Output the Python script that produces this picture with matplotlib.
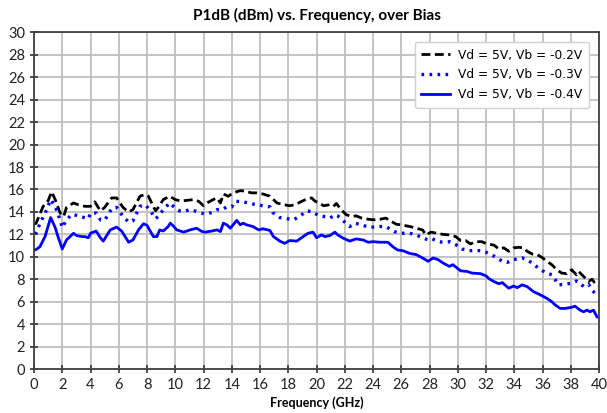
import matplotlib
matplotlib.use('Agg')
import matplotlib.pyplot as plt

# Vd = 5V, Vb = -0.2V
freq_b02 = [0.0, 0.15, 0.65, 1.0, 1.25, 1.5, 1.85, 2.1, 2.3, 2.8,
            3.1, 3.6, 4.0, 4.3, 4.7, 5.0, 5.5, 5.85, 6.3, 6.7,
            7.0, 7.5, 7.85, 8.1, 8.6, 8.8, 9.15, 9.6, 10.0, 10.3,
            10.6, 11.3, 11.65, 12.0, 12.25, 12.6, 12.95, 13.2, 13.4, 13.75,
            14.1, 14.6, 14.95, 15.4, 15.75, 16.2, 16.7, 17.2, 17.65, 18.1,
            18.5, 18.8, 19.3, 19.65, 19.9, 20.2, 20.5, 20.95, 21.2, 21.4,
            21.75, 22.1, 22.5, 22.8, 23.2, 23.65, 24.0, 24.5, 24.9, 25.3,
            25.65, 26.0, 26.6, 27.05, 27.5, 27.75, 28.1, 28.5, 28.95, 29.4,
            29.85, 30.2, 30.55, 30.9, 31.25, 31.7, 32.05, 32.55, 32.9, 33.25,
            33.6, 33.95, 34.3, 34.65, 34.9, 35.25, 35.6, 35.95, 36.3, 36.65,
            37.0, 37.35, 37.7, 38.05, 38.4, 38.55, 38.9, 39.25, 39.5, 39.7, 40.0]
p1db_b02 = [12.9, 13.0, 14.5, 15.0, 15.8, 15.1, 13.9, 13.6, 14.4, 14.8,
            14.65, 14.5, 14.5, 14.9, 14.1, 14.4, 15.25, 15.25, 14.4, 14.0,
            14.2, 15.4, 15.55, 15.4, 14.1, 14.4, 15.1, 15.4, 15.1, 15.0,
            15.0, 15.1, 14.95, 14.55, 14.8, 15.05, 15.25, 14.8, 15.6, 15.4,
            15.7, 15.9, 15.85, 15.7, 15.7, 15.6, 15.4, 14.8, 14.65, 14.55,
            14.65, 14.85, 15.15, 15.25, 14.95, 14.8, 14.55, 14.65, 14.5, 14.75,
            14.2, 13.75, 13.6, 13.65, 13.45, 13.35, 13.3, 13.35, 13.45, 13.15,
            12.9, 12.85, 12.7, 12.55, 12.4, 11.95, 12.2, 12.1, 12.0, 11.95,
            11.8, 11.45, 11.45, 11.15, 11.35, 11.35, 11.15, 11.05, 10.7, 10.8,
            10.5, 10.8, 10.85, 10.8, 10.5, 10.25, 10.2, 9.95, 9.6, 9.3,
            8.85, 8.55, 8.5, 8.85, 8.4, 8.7, 8.25, 7.8, 8.0, 7.65, 7.4]

# Vd = 5V, Vb = -0.3V
freq_b03 = [0.0, 0.15, 0.55, 0.9, 1.18, 1.5, 1.85, 2.0, 2.3, 2.7,
            3.25, 3.85, 4.0, 4.4, 4.7, 5.0, 5.5, 5.85, 6.3, 6.7,
            7.0, 7.5, 7.85, 8.2, 8.6, 8.8, 9.15, 9.6, 10.0, 10.3,
            10.6, 11.05, 11.5, 12.1, 12.6, 12.95, 13.3, 13.65, 14.0, 14.25,
            14.8, 15.5, 16.2, 16.7, 16.9, 17.4, 17.9, 18.35, 18.8, 19.3,
            19.75, 20.1, 20.5, 20.95, 21.3, 21.5, 21.9, 22.35, 22.7, 23.2,
            23.65, 24.0, 24.5, 24.9, 25.5, 26.0, 26.6, 27.05, 27.5, 27.9,
            28.2, 28.6, 28.95, 29.4, 29.9, 30.3, 30.8, 31.25, 31.7, 32.2,
            32.65, 33.15, 33.5, 33.85, 34.2, 34.55, 34.9, 35.25, 35.7, 36.2,
            36.65, 36.9, 37.1, 37.6, 38.05, 38.4, 38.65, 38.9, 39.25, 39.5, 39.7, 40.0]
p1db_b03 = [12.1, 12.2, 13.3, 14.2, 15.1, 14.5, 13.3, 12.6, 13.3, 13.8,
            13.6, 13.4, 13.9, 13.9, 13.3, 13.25, 14.3, 14.4, 13.6, 13.1,
            13.2, 14.5, 14.65, 14.2, 13.4, 13.6, 14.2, 14.8, 14.35, 14.1,
            14.05, 14.2, 14.05, 13.8, 13.95, 14.2, 14.2, 14.45, 14.45, 14.95,
            14.9, 14.7, 14.55, 14.45, 13.95, 13.5, 13.4, 13.3, 13.6, 14.1,
            14.0, 13.7, 13.6, 13.45, 13.75, 13.65, 13.2, 12.7, 13.0, 12.85,
            12.65, 12.65, 12.7, 12.7, 12.25, 12.1, 12.1, 11.95, 11.7, 11.5,
            11.6, 11.35, 11.3, 11.35, 11.05, 10.7, 10.55, 10.55, 10.55, 10.3,
            10.0, 9.6, 9.5, 9.75, 9.8, 9.9, 9.75, 9.45, 9.0, 8.6,
            8.4, 7.95, 7.5, 7.55, 7.65, 7.85, 7.65, 7.35, 7.55, 7.05, 6.75, 6.9]

# Vd = 5V, Vb = -0.4V
freq_b04 = [0.0, 0.15, 0.42, 0.78, 1.18, 1.5, 1.7, 2.0, 2.3, 2.8,
            3.0, 3.4, 3.6, 3.85, 4.0, 4.4, 4.7, 4.9, 5.4, 5.85,
            6.2, 6.7, 7.0, 7.4, 7.75, 8.0, 8.45, 8.7, 8.9, 9.15,
            9.5, 9.65, 9.9, 10.1, 10.6, 11.05, 11.5, 11.9, 12.1, 12.6,
            12.95, 13.2, 13.4, 13.65, 13.9, 14.35, 14.6, 14.8, 15.05, 15.5,
            15.9, 16.2, 16.7, 16.95, 17.4, 17.75, 18.1, 18.6, 19.05, 19.4,
            19.75, 20.0, 20.35, 20.6, 20.95, 21.3, 21.5, 21.9, 22.35, 22.8,
            23.3, 23.65, 24.0, 24.5, 25.05, 25.4, 25.75, 26.1, 26.6, 27.05,
            27.5, 27.9, 28.25, 28.6, 28.95, 29.4, 29.65, 29.9, 30.2, 30.65,
            31.0, 31.6, 32.0, 32.2, 32.55, 32.9, 33.15, 33.6, 33.95, 34.2,
            34.55, 34.9, 35.35, 35.85, 36.3, 36.65, 36.9, 37.25, 37.6, 38.05,
            38.3, 38.65, 38.9, 39.15, 39.35, 39.6, 39.85, 40.0]
p1db_b04 = [10.6, 10.65, 10.9, 11.8, 13.5, 12.6, 11.8, 10.7, 11.5, 12.1,
            11.9, 11.8, 11.8, 11.7, 12.1, 12.3, 11.7, 11.4, 12.4, 12.65,
            12.3, 11.3, 11.5, 12.4, 12.95, 12.8, 11.8, 11.8, 12.4, 12.3,
            12.7, 13.0, 12.7, 12.4, 12.2, 12.4, 12.55, 12.25, 12.2, 12.3,
            12.4, 12.25, 13.0, 12.85, 12.55, 13.25, 12.85, 13.0, 12.85, 12.7,
            12.4, 12.5, 12.35, 11.8, 11.4, 11.2, 11.45, 11.4, 11.8, 12.1,
            12.2, 11.7, 11.95, 11.8, 11.9, 12.2, 11.95, 11.65, 11.4, 11.6,
            11.5, 11.3, 11.35, 11.3, 11.3, 10.9, 10.6, 10.55, 10.3, 10.2,
            9.9, 9.6, 9.9, 9.75, 9.45, 9.15, 9.3, 9.05, 8.75, 8.7,
            8.55, 8.5, 8.3, 8.05, 7.8, 7.6, 7.7, 7.2, 7.4, 7.25,
            7.5, 7.35, 6.9, 6.6, 6.3, 6.0, 5.7, 5.4, 5.4, 5.5,
            5.6, 5.25, 5.1, 5.25, 5.1, 5.25, 4.65, 4.6]

x_ticks = list(range(0, 41, 2))
y_ticks = list(range(0, 31, 2))

plt.rcParams['font.family'] = ['Lato', 'DejaVu Sans']

fig = plt.figure(figsize=(6.07, 4.13), dpi=100)
ax = fig.add_axes([0.056, 0.1065, 0.931, 0.815])

ax.plot(freq_b02, p1db_b02, color='black', linestyle=(0, (3.2, 1.6)), linewidth=2.0,
        label='Vd = 5V, Vb = -0.2V')
ax.plot(freq_b03, p1db_b03, color='#0000ff', linestyle=(0, (0.8, 1.6)), linewidth=2.4,
        label='Vd = 5V, Vb = -0.3V')
ax.plot(freq_b04, p1db_b04, color='#0000ff', linestyle='-', linewidth=2.0,
        label='Vd = 5V, Vb = -0.4V')

ax.set_xlim(0, 40)
ax.set_ylim(0, 30)
ax.set_xticks(x_ticks)
ax.set_yticks(y_ticks)
ax.grid(True, color='#bfbfbf', linewidth=1.3)
ax.set_axisbelow(True)
for s in ax.spines.values():
    s.set_color('#404040')
    s.set_linewidth(1.3)
ax.tick_params(direction='inout', length=6, width=1.3, color='#404040',
               labelsize=10.5, labelcolor='#222222')

ax.set_title('P1dB (dBm) vs. Frequency, over Bias', fontsize=11, fontweight='bold', pad=9)
ax.set_xlabel('Frequency (GHz)', fontsize=9, fontweight='bold', labelpad=3)

leg = ax.legend(loc='upper right', prop={'family': 'DejaVu Sans', 'size': 8.8},
                handlelength=2.3, handletextpad=0.7, framealpha=1, edgecolor='#d0d0d0',
                borderpad=0.55, labelspacing=0.55, bbox_to_anchor=(0.993, 0.99))

fig.savefig('out.png', dpi=100)
